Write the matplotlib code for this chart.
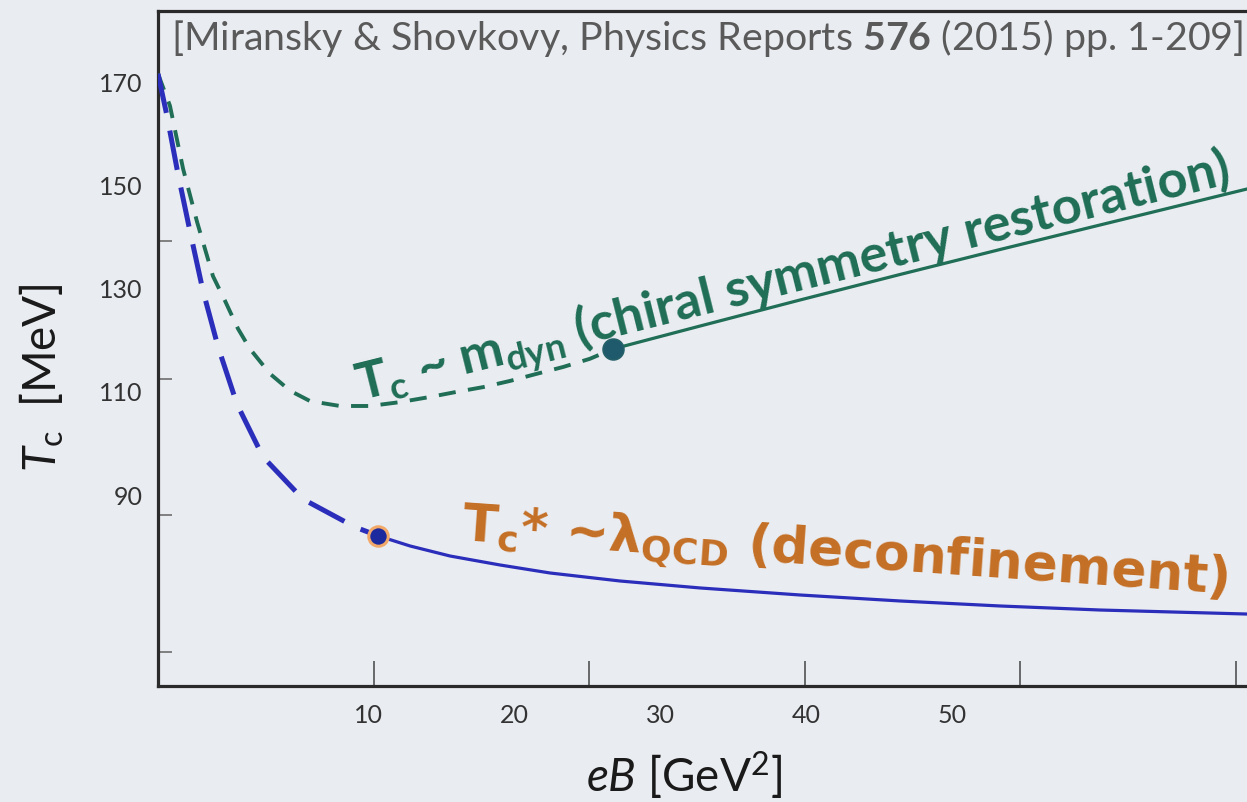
import matplotlib
matplotlib.use('Agg')
import matplotlib.pyplot as plt

plt.rcParams['font.family'] = ['Lato', 'DejaVu Sans']
plt.rcParams['mathtext.fontset'] = 'custom'
plt.rcParams['mathtext.rm'] = 'Lato'
plt.rcParams['mathtext.it'] = 'Lato:italic'
plt.rcParams['mathtext.bf'] = 'Lato:bold'
plt.rcParams['mathtext.sf'] = 'DejaVu Sans:bold'

# ---------------- data ----------------
# deconfinement temperature T_c* (blue)
deconf_dash_eB = [-4.46, -3.84, -3.09, -2.26, -1.37, -0.34, 0.96, 2.74, 5.49, 9.05, 10.63]
deconf_dash_T = [171.4, 163.2, 152.0, 140.8, 129.3, 118.5, 107.4, 97.2, 89.0, 83.6, 81.9]
deconf_solid_eB = [10.63, 12.83, 15.57, 19.00, 22.43, 27.23, 32.72, 39.57, 46.43, 53.29, 60.15, 70.23]
deconf_solid_T = [81.9, 79.93, 77.99, 76.25, 74.70, 73.15, 71.80, 70.44, 69.28, 68.31, 67.53, 66.75]
deconf_point = (10.63, 81.9)

# chiral restoration temperature T_c (green)
chiral_dash_eB = [-4.46, -3.64, -2.74, -1.78, -0.69, 0.14, 1.03, 1.85, 3.22, 4.60, 5.97, 8.02,
                  10.08, 12.14, 14.20, 16.05, 17.83, 19.68, 21.54, 23.32, 25.17, 26.75]
chiral_dash_T = [171.4, 165.2, 153.0, 142.7, 132.2, 127.4, 122.0, 118.1, 113.3, 110.0, 108.0, 107.05,
                 107.05, 107.8, 108.8, 109.8, 110.7, 111.9, 113.3, 114.6, 116.2, 118.1]
chiral_solid_eB = [26.75, 32.72, 39.57, 46.43, 53.29, 60.15, 70.23]
chiral_solid_T = [118.1, 122.54, 127.58, 132.52, 137.36, 142.11, 149.08]
chiral_point = (26.75, 118.1)

# axis ticks: tick marks and tick labels sit at different places in the original
ytick_label_vals = [170, 150, 130, 110, 90]
ytick_mark_vals = [139.0, 112.3, 85.9, 59.4]
xtick_label_vals = [10, 20, 30, 40, 50]
xtick_mark_vals = [10.36, 25.10, 39.92, 54.66, 69.48]

title_text = r"[Miransky & Shovkovy, Physics Reports $\mathbf{576}$ (2015) pp. 1-209]"
chiral_label = r"T$_\mathbf{c}$ ~ m$_\mathbf{dyn}$ (chiral symmetry restoration)"
deconf_label = r"T$_\mathsf{c}$* ~λ$_\mathsf{QCD}$ (deconfinement)"

# ---------------- figure ----------------
W, H = 1247, 803
BG = '#e9ecf1'
BLUE = '#2b2dbb'
GREEN = '#1f6e55'
ORANGE = '#c46f25'

fig = plt.figure(figsize=(W / 100, H / 100), dpi=100, facecolor=BG)
ax = fig.add_axes([158 / W, 1 - 687 / H, (W - 158) / W, (687 - 12) / H])
ax.set_facecolor('none')
ax.set_xlim(-4.46, 70.23)
ax.set_ylim(52.81, 183.56)

for s in ['left', 'bottom', 'top']:
    ax.spines[s].set_color('#2a2a2a')
    ax.spines[s].set_linewidth(2.3)
ax.spines['right'].set_visible(False)

# tick marks (no labels)
ax.set_yticks(ytick_mark_vals)
ax.set_yticklabels([''] * len(ytick_mark_vals))
ax.set_xticks(xtick_mark_vals)
ax.set_xticklabels([''] * len(xtick_mark_vals))
ax.tick_params(axis='y', which='major', direction='in', length=10, width=1.3, color='#777777')
ax.tick_params(axis='x', which='major', direction='in', length=18, width=1.1, color='#444444')
# tick labels (no marks)
ax.set_yticks(ytick_label_vals, minor=True)
ax.set_yticklabels([str(v) for v in ytick_label_vals], minor=True)
ax.set_xticks(xtick_label_vals, minor=True)
ax.set_xticklabels([str(v) for v in xtick_label_vals], minor=True)
ax.tick_params(axis='both', which='minor', length=0, labelsize=18, labelcolor='#333333')
ax.tick_params(axis='y', which='minor', pad=11)
ax.tick_params(axis='x', which='minor', pad=12)

# curves
ax.plot(chiral_dash_eB, chiral_dash_T, color=GREEN, lw=2.8, dashes=(4.4, 3.2),
        dash_capstyle='butt', zorder=3)
ax.plot(chiral_solid_eB, chiral_solid_T, color=GREEN, lw=2.3, solid_capstyle='round', zorder=3)
ax.plot(deconf_dash_eB, deconf_dash_T, color=BLUE, lw=3.6, dashes=(8.0, 3.6),
        dash_capstyle='butt', zorder=4)
ax.plot(deconf_solid_eB, deconf_solid_T, color=BLUE, lw=2.3, solid_capstyle='round', zorder=4)
ax.plot([deconf_point[0]], [deconf_point[1]], 'o', ms=14, mfc='#1c2a9e', mec='#f2a868',
        mew=2.2, zorder=6)
ax.plot([chiral_point[0]], [chiral_point[1]], 'o', ms=15, mfc='#1f5a6c', mec='#25606a',
        mew=1.2, zorder=6)

# axis labels
ax.set_ylabel(r"$T_\mathrm{c}$  [MeV]", fontsize=33, color='#1a1a1a', va='center', ha='center')
ax.yaxis.set_label_coords((42 - 158) / (W - 158), (687 - 378) / 675)
ax.set_xlabel(r"$eB$ [GeV$^\mathrm{2}$]", fontsize=33, color='#1a1a1a', va='center', ha='center')
ax.xaxis.set_label_coords((684 - 158) / (W - 158), (687 - 776) / 675)

# texts
t_title = fig.text(171 / W, 1 - 38 / H, title_text, fontsize=28, color='#5a5a5a',
                   ha='left', va='center')
t_chiral = ax.text(9.40, 108.4, chiral_label, fontsize=30, fontweight='bold', color=GREEN,
                   rotation=14.0, rotation_mode='anchor', ha='left', va='baseline', zorder=5)
t_deconf = ax.text(16.32, 81.3, deconf_label, fontsize=32, fontweight='bold', color=ORANGE,
                   family=['DejaVu Sans'], rotation=-4.0, rotation_mode='anchor',
                   ha='left', va='baseline', zorder=5)

fig.canvas.draw()
renderer = fig.canvas.get_renderer()


def fit(t, target):
    rot = t.get_rotation()
    t.set_rotation(0)
    w = t.get_window_extent(renderer).width
    t.set_fontsize(t.get_fontsize() * target / w)
    t.set_rotation(rot)


fit(t_title, 1073)
fit(t_chiral, 898)
fit(t_deconf, 769)

fig.savefig('out.png', dpi=100, facecolor=fig.get_facecolor())
